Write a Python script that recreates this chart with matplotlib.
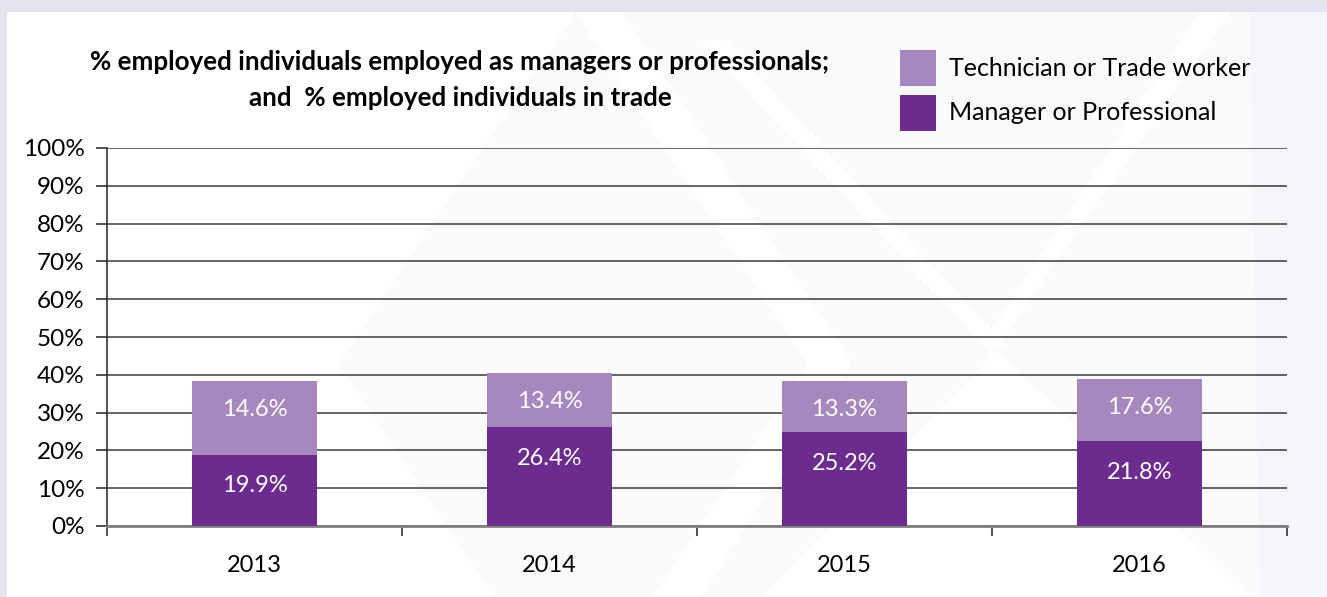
import numpy as np
import matplotlib.pyplot as plt
from matplotlib.patches import Rectangle, Polygon

plt.rcParams['font.family'] = ['Lato', 'DejaVu Sans']

years = ['2013', '2014', '2015', '2016']
# bar heights as drawn in the picture (%)
manager = [18.9, 26.1, 24.8, 22.4]
technician = [19.4, 14.4, 13.5, 16.5]
# value labels printed on the bars
manager_labels = ['19.9%', '26.4%', '25.2%', '21.8%']
technician_labels = ['14.6%', '13.4%', '13.3%', '17.6%']

dark = '#6C2C8E'
light = '#A688BE'
W, H = 1327, 597

fig = plt.figure(figsize=(W / 100, H / 100), dpi=100)
fig.patch.set_facecolor('#E7E2F0')


def px(pts):
    # pixel coords (from top-left) -> figure fraction
    return [(x / W, 1 - y / H) for x, y in pts]


def add_shape(pts, color, z):
    fig.patches.append(Polygon(px(pts), closed=True, transform=fig.transFigure,
                               facecolor=color, edgecolor='none', zorder=z))


# white panel and the faint background decoration
add_shape([(7, 12), (W, 12), (W, H), (7, H)], 'white', -5)
faint = '#FAF9FC'
add_shape([(575, 12), (807, 364), (575, 716), (338, 364)], faint, -4)
add_shape([(622, 12), (W, 12), (W, H), (1250, H), (997, 350), (763, H), (700, H), (852, 364)], faint, -4)
add_shape([(1200, 12), (1230, 12), (1002, 340), (985, 340)], 'white', -3)
add_shape([(700, 40), (725, 40), (1005, 345), (990, 352)], 'white', -3)
add_shape([(1250, 12), (W, 12), (W, H), (1260, H)], '#F6F5F9', -4)

ax = fig.add_axes([107 / W, 1 - 526 / H, 1180 / W, 378 / H])
ax.patch.set_alpha(0)

x = np.arange(len(years))
w = 0.424
b1 = ax.bar(x, manager, w, color=dark, zorder=3, label='Manager or Professional')
b2 = ax.bar(x, technician, w, bottom=manager, color=light, zorder=3, label='Technician or Trade worker')

for i in range(len(years)):
    top1 = manager[i]
    top2 = manager[i] + technician[i]
    ax.text(x[i], top1 - 8.2, manager_labels[i], ha='center', va='center',
            color='white', fontsize=17, zorder=4)
    ax.text(x[i], top2 - 7.6, technician_labels[i], ha='center', va='center',
            color='white', fontsize=17, zorder=4)

ax.set_xlim(-0.5, 3.5)
ax.set_ylim(0, 100)
ax.set_yticks(np.arange(0, 101, 10))
ax.set_yticklabels([f'{v}%' for v in range(0, 101, 10)], fontsize=17.5)
ax.yaxis.grid(True, color='#3a3a3a', linewidth=1.1, zorder=1)
ax.set_axisbelow(True)

ax.set_xticks(x)
ax.set_xticklabels(years, fontsize=17)
ax.set_xticks(np.arange(-0.5, 4, 1), minor=True)
ax.tick_params(axis='x', which='major', length=0, pad=21)
ax.tick_params(axis='x', which='minor', length=7, color='#333333', width=1.2, direction='out')
ax.tick_params(axis='y', length=8, color='#333333', width=1.2, pad=8)

for s in ['top', 'right']:
    ax.spines[s].set_visible(False)
ax.spines['left'].set_color('#333333')
ax.spines['left'].set_linewidth(1.2)
ax.spines['bottom'].set_color('#808080')
ax.spines['bottom'].set_linewidth(2)

fig.text(460 / W, 1 - 80 / H,
         '% employed individuals employed as managers or professionals;\nand  % employed individuals in trade',
         ha='center', va='center', fontsize=18.7, fontweight='bold', linespacing=1.65)

# legend drawn by hand to match placement
leg_items = [(b2, 'Technician or Trade worker', 68), (b1, 'Manager or Professional', 113)]
for bars, label, yc in leg_items:
    fig.patches.append(Rectangle((900 / W, 1 - (yc + 18) / H), 36 / W, 36 / H,
                                 transform=fig.transFigure,
                                 facecolor=bars.patches[0].get_facecolor(), edgecolor='none'))
    fig.text(949 / W, 1 - yc / H, label, ha='left', va='center', fontsize=18)

fig.savefig('out.png', dpi=100)
